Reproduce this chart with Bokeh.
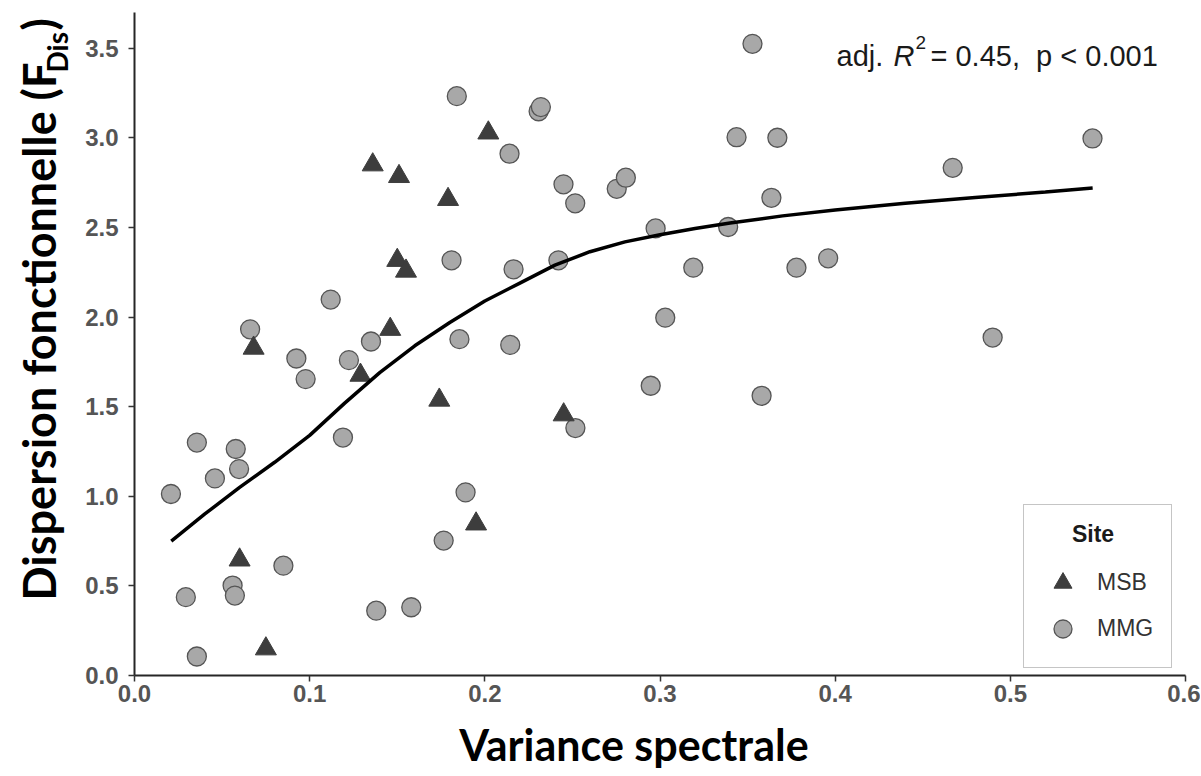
import math
from bokeh.plotting import figure
from bokeh.layouts import row
from bokeh.models import Range1d, Label, Legend, LegendItem, FixedTicker, PrintfTickFormatter, ColumnDataSource
from bokeh.core.properties import value
from bokeh.embed import file_html
from bokeh.resources import INLINE

# ---- data ----
msb_x = [0.136, 0.151, 0.179, 0.150, 0.155, 0.146, 0.068, 0.129, 0.174, 0.195, 0.060, 0.075, 0.202, 0.245]
msb_y = [2.850, 2.785, 2.657, 2.317, 2.257, 1.932, 1.827, 1.676, 1.537, 0.846, 0.645, 0.149, 3.028, 1.455]

mmg_x = [0.0208, 0.0293, 0.0356, 0.0356, 0.0459, 0.0560, 0.0573, 0.0578, 0.0597, 0.0660,
         0.0850, 0.0924, 0.0977, 0.1120, 0.1190, 0.1224, 0.1350, 0.1380, 0.1580, 0.1765,
         0.1810, 0.1840, 0.1855, 0.1890, 0.2141, 0.2145, 0.2164, 0.2307, 0.2320, 0.2420,
         0.2449, 0.2516, 0.2517, 0.2753, 0.2805, 0.2947, 0.2975, 0.3030, 0.3190, 0.3389,
         0.3437, 0.3528, 0.3580, 0.3636, 0.3670, 0.3779, 0.3960, 0.4671, 0.4899, 0.5469]
mmg_y = [1.013, 0.437, 0.106, 1.300, 1.100, 0.502, 0.446, 1.264, 1.152, 1.932,
         0.613, 1.769, 1.654, 2.098, 1.328, 1.760, 1.864, 0.362, 0.381, 0.753,
         2.317, 3.233, 1.877, 1.022, 2.912, 1.845, 2.267, 3.149, 3.172, 2.317,
         2.741, 2.635, 1.381, 2.716, 2.778, 1.617, 2.495, 1.997, 2.276, 2.503,
         3.004, 3.525, 1.561, 2.666, 3.001, 2.276, 2.328, 2.833, 1.886, 2.997]

fit_x = [0.021, 0.04, 0.06, 0.08, 0.10, 0.12, 0.14, 0.16, 0.18, 0.20, 0.22, 0.24,
         0.26, 0.28, 0.30, 0.32, 0.34, 0.37, 0.40, 0.44, 0.48, 0.52, 0.547]
fit_y = [0.75, 0.90, 1.05, 1.19, 1.34, 1.52, 1.69, 1.84, 1.97, 2.09, 2.19, 2.29,
         2.365, 2.42, 2.46, 2.495, 2.525, 2.565, 2.598, 2.635, 2.668, 2.698, 2.72]

x_ticks = [0.0, 0.1, 0.2, 0.3, 0.4, 0.5, 0.6]
y_ticks = [0.0, 0.5, 1.0, 1.5, 2.0, 2.5, 3.0, 3.5]

legend_title = "Site"
series_names = ["MSB", "MMG"]
x_title = "Variance spectrale"
y_title_main = "Dispersion fonctionnelle (F"
y_title_sub = "Dis"
y_title_end = ")"

# ---- layout (page pixels) ----
LW = 82                      # width of the strip holding the y title
W, H = 1118, 775             # main figure
BL, BR, BT, BB = 52, 15, 12, 100
X0, X1 = 0.0, 0.6
Y0, Y1 = 0.0, 3.7
FW = W - BL - BR
FH = H - BT - BB
FL = LW + BL                 # page x of frame left
FB = BT + FH                 # page y of frame bottom

def px2x(px):
    return X0 + (px - FL) / FW * (X1 - X0)

def py2y(py):
    return Y0 + (FB - py) / FH * (Y1 - Y0)

p = figure(width=W, height=H, x_range=Range1d(X0, X1), y_range=Range1d(Y0, Y1),
           output_backend="svg", toolbar_location=None,
           min_border_left=BL, min_border_right=BR, min_border_top=BT, min_border_bottom=BB)
p.grid.visible = False
p.outline_line_color = None
p.background_fill_color = "white"
p.border_fill_color = "white"

for ax, ticks in ((p.xaxis[0], x_ticks), (p.yaxis[0], y_ticks)):
    ax.ticker = FixedTicker(ticks=ticks)
    ax.formatter = PrintfTickFormatter(format="%.1f")
    ax.axis_line_color = "#262626"
    ax.axis_line_width = 2
    ax.major_tick_line_color = "#333333"
    ax.major_tick_line_width = 1.5
    ax.major_tick_out = 6
    ax.major_tick_in = 0
    ax.minor_tick_line_color = None
    ax.major_label_text_font = "Liberation Sans"
    ax.major_label_text_font_style = "bold"
    ax.major_label_text_font_size = "24px"
    ax.major_label_text_color = "#555555"
p.yaxis[0].major_label_standoff = 10
p.xaxis[0].major_label_standoff = 3

xa = p.xaxis[0]
xa.axis_label = x_title + "\u00a0" * 5
xa.axis_label_text_font = "Lato"
xa.axis_label_text_font_style = "bold"
xa.axis_label_text_font_size = "43px"
xa.axis_label_text_color = "black"
xa.axis_label_standoff = 14

src_mmg = ColumnDataSource(dict(x=mmg_x, y=mmg_y))
src_msb = ColumnDataSource(dict(x=msb_x, y=msb_y))

r_mmg = p.scatter("x", "y", source=src_mmg, marker="circle", size=19,
                  fill_color="#a8a8a8", line_color="#555555", line_width=1.3)
r_msb = p.scatter("x", "y", source=src_msb, marker="triangle", size=21,
                  fill_color="#3d3d3d", line_color="#3d3d3d", line_width=1)
p.line(fit_x, fit_y, line_color="black", line_width=3.5)

legend = Legend(items=[LegendItem(label=series_names[0], renderers=[r_msb]),
                       LegendItem(label=series_names[1], renderers=[r_mmg])],
                location=(889, 7), title="\u00a0" * 5 + legend_title,
                orientation="vertical")
legend.title_text_font = "Liberation Sans"
legend.title_text_font_style = "bold"
legend.title_text_font_size = "23px"
legend.title_text_color = "#1a1a1a"
legend.title_standoff = 12
legend.label_text_font = "Liberation Sans"
legend.label_text_font_size = "23px"
legend.label_text_color = "#333333"
legend.border_line_color = "#8c8c8c"
legend.border_line_width = 1.5
legend.background_fill_color = "white"
legend.background_fill_alpha = 1
legend.padding = 16
legend.spacing = 1
legend.margin = 0
legend.glyph_width = 45
legend.glyph_height = 45
legend.label_height = 45
legend.label_width = 58
legend.label_standoff = 12
p.add_layout(legend)

# statistics annotation
ann = dict(text_font="Liberation Sans", text_color="#1a1a1a", text_baseline="alphabetic", text_align="left")
p.add_layout(Label(x=px2x(836), y=py2y(55), text="adj.", text_font_size="29px", **ann))
p.add_layout(Label(x=px2x(893), y=py2y(55), text="R", text_font_size="29px",
                   text_font_style="italic", **ann))
p.add_layout(Label(x=px2x(915), y=py2y(42), text="2", text_font_size="19px", **ann))
p.add_layout(Label(x=px2x(930), y=py2y(55), text="= 0.45,\u00a0 p < 0.001", text_font_size="29px", **ann))

# ---- y title strip (its own figure; frame aligned with the main one, data y = H - page y) ----
q = figure(width=LW, height=H, x_range=Range1d(0, LW), y_range=Range1d(H - FB, H - BT),
           output_backend="svg", toolbar_location=None,
           x_axis_location=None, y_axis_location=None,
           min_border_left=0, min_border_right=0, min_border_top=BT, min_border_bottom=BB)
q.grid.visible = False
q.outline_line_color = None
q.background_fill_color = "white"
q.border_fill_color = "white"
ttl = dict(angle=math.pi / 2, text_font=value("Lato"), text_font_style="bold",
           text_align="left", text_baseline="alphabetic", text_color="black")
q.text(x=[38.6], y=[H - 600], text=[y_title_main], text_font_size="45px", **ttl)
q.text(x=[56], y=[H - 72], text=[y_title_sub], text_font_size="28px", **ttl)
q.text(x=[38.6], y=[H - 30], text=[y_title_end], text_font_size="45px", **ttl)

layout = row(q, p)
open("out.html", "w").write(file_html(layout, INLINE))
